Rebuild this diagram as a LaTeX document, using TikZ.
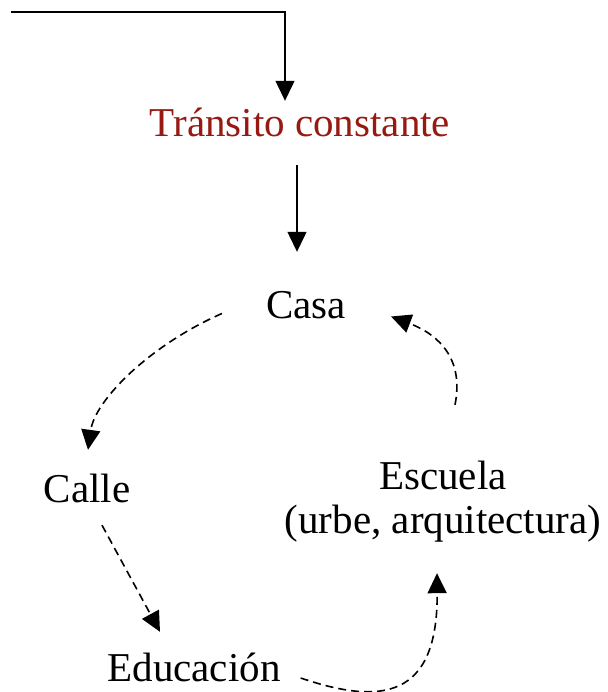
\documentclass[tikz,border=0pt]{standalone}
\usepackage{fontspec}
\setmainfont{Liberation Serif}
\usetikzlibrary{arrows.meta,calc}
\definecolor{tred}{RGB}{150,25,18}
\begin{document}
\begin{tikzpicture}[x=1pt,y=-1pt,
  lbl/.style={inner sep=0pt,anchor=base,text height=30pt,text depth=9pt,font=\fontsize{41}{49}\selectfont},
  solidarr/.style={line width=1.3pt,-{Triangle[length=20pt,width=19pt]}},
  dasharr/.style={line width=1.6pt,dash pattern=on 8pt off 5pt,-{Triangle[length=20pt,width=19pt]}}]
\useasboundingbox (0,0) rectangle (607,692);
\node[lbl,text=tred] (tr) at (300,137) {Tránsito constante};
\node[lbl] (casa) at (306,318) {Casa};
\node[lbl] (calle) at (87,502) {Calle};
\node[lbl] (edu) at (194,681) {Educación};
\node[lbl] (esc) at (443,489) {Escuela};
\node[lbl] (urbe) at (443,533) {(urbe, arquitectura)};
\coordinate (start) at (11,12);
% top connector
\draw[solidarr] (start) -| ([xshift=-15pt,yshift=6pt]tr.north);
% transito -> casa
\draw[solidarr] ($(tr.south -| casa.north)+(-9,19)$) -- ($(casa.north)+(-9,-36)$);
% casa -> calle
\draw[dasharr] ($(casa.west)+(-44,6)$) .. controls (150,345) and (95,400) .. ($(calle.north)+(1,-22)$);
% calle -> educacion
\draw[dasharr] ($(calle.south)+(15,14)$) -- ($(edu.north)+(-34,-19)$);
% educacion -> escuela
\draw[dasharr] ($(edu.east)+(20,7.5)$) .. controls (380,705) and (438,700) .. ($(urbe.south)+(-6,31)$);
% escuela -> casa
\draw[dasharr] ($(esc.north)+(12,-54)$) .. controls (464,360) and (440,335) .. ($(casa.east)+(45,9)$);
\end{tikzpicture}
\end{document}
